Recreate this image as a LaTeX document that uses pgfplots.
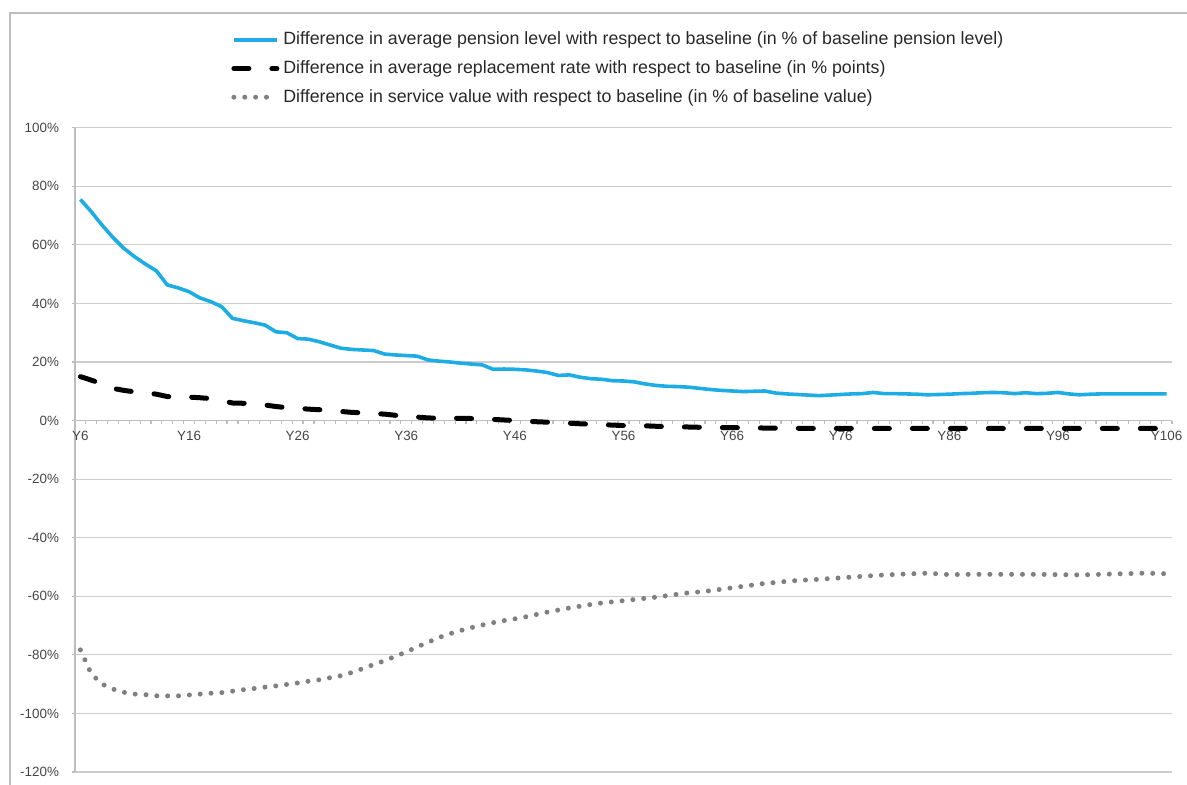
\documentclass[border=0pt]{standalone}
\usepackage{fontspec}
\setmainfont{Liberation Sans}
\usepackage{pgfplots}
\pgfplotsset{compat=1.18}
\definecolor{pblue}{RGB}{30,172,228}
\definecolor{dgray}{RGB}{128,128,128}
\definecolor{gridc}{RGB}{205,205,205}
\definecolor{axc}{RGB}{190,190,190}
\definecolor{txt}{RGB}{70,70,70}
\definecolor{legtxt}{RGB}{40,40,40}

\pgfplotstableread{
x y
6 75.5
7 71.3
8 66.7
9 62.5
10 58.8
11 55.9
12 53.4
13 51.1
14 46.3
15 45.3
16 44.0
17 41.9
18 40.6
19 38.9
20 34.9
21 34.1
22 33.4
23 32.6
24 30.3
25 30.0
26 28.0
27 27.8
28 26.9
29 25.8
30 24.7
31 24.3
32 24.1
33 23.9
34 22.7
35 22.4
36 22.2
37 22.0
38 20.7
39 20.3
40 20.0
41 19.6
42 19.3
43 19.0
44 17.5
45 17.6
46 17.5
47 17.3
48 16.9
49 16.4
50 15.4
51 15.6
52 14.8
53 14.3
54 14.1
55 13.6
56 13.5
57 13.2
58 12.5
59 12.0
60 11.7
61 11.6
62 11.4
63 11.0
64 10.6
65 10.3
66 10.1
67 9.9
68 10.0
69 10.1
70 9.4
71 9.1
72 8.9
73 8.7
74 8.5
75 8.7
76 8.9
77 9.1
78 9.2
79 9.6
80 9.2
81 9.2
82 9.1
83 9.0
84 8.8
85 8.9
86 9.0
87 9.2
88 9.3
89 9.5
90 9.6
91 9.5
92 9.2
93 9.5
94 9.2
95 9.3
96 9.6
97 9.1
98 8.8
99 9.0
100 9.1
101 9.1
102 9.1
103 9.1
104 9.1
105 9.1
106 9.1
}\pension

\pgfplotstableread{
x y
6 15.0
7 13.8
8 12.5
9 11.0
10 10.3
11 9.8
12 9.5
13 9.0
14 8.2
15 8.0
16 8.0
17 7.8
18 7.5
19 6.8
20 6.0
21 5.9
22 5.7
23 5.3
24 4.8
25 4.4
26 4.2
27 3.9
28 3.7
29 3.5
30 3.1
31 2.8
32 2.6
33 2.4
34 2.2
35 1.8
36 1.5
37 1.2
38 0.9
39 0.8
40 0.8
42 0.7
44 0.4
46 0.0
48 -0.4
50 -0.7
52 -1.1
54 -1.4
56 -1.7
58 -1.8
60 -2.1
62 -2.2
64 -2.4
66 -2.4
68 -2.5
70 -2.6
74 -2.7
80 -2.7
90 -2.7
106 -2.7
}\replacement

\pgfplotstableread{
x y
6 -78.3
7 -86.5
8 -90.0
9 -91.7
10 -92.8
11 -93.4
12 -93.6
13 -94.0
14 -94.0
15 -94.0
16 -93.7
17 -93.4
18 -93.1
19 -92.9
20 -92.4
21 -91.9
22 -91.5
23 -91.0
24 -90.6
25 -90.1
26 -89.6
27 -89.0
28 -88.5
29 -87.8
30 -87.1
31 -86.0
32 -84.7
33 -83.3
34 -82.0
35 -80.5
36 -79.0
37 -77.3
38 -75.7
39 -74.1
40 -72.8
41 -71.7
42 -70.7
43 -69.8
44 -69.0
45 -68.3
46 -67.7
47 -67.0
48 -66.2
49 -65.4
50 -64.7
51 -64.0
52 -63.4
53 -62.8
54 -62.3
55 -61.9
56 -61.5
57 -61.1
58 -60.7
59 -60.3
60 -59.8
61 -59.3
62 -58.8
63 -58.5
64 -58.1
65 -57.6
66 -57.1
67 -56.6
68 -56.1
69 -55.6
70 -55.3
71 -54.9
72 -54.6
74 -54.2
76 -53.7
78 -53.2
80 -52.7
82 -52.4
84 -52.1
86 -52.6
88 -52.5
90 -52.5
92 -52.5
94 -52.5
96 -52.6
98 -52.7
100 -52.5
102 -52.3
104 -52.1
106 -52.3
}\service

\begin{document}
\begin{tikzpicture}
\useasboundingbox (0pt,0pt) rectangle (593.5pt,-392.5pt);
\draw[axc, line width=0.8pt] (5pt,-6.5pt) rectangle (640pt,-430pt);
\begin{axis}[
  at={(37.5pt,-386pt)}, anchor=south west,
  scale only axis, width=548.5pt, height=322.15pt,
  xmin=5.5, xmax=106.5, ymin=-120, ymax=100,
  axis x line*=middle, axis y line*=left,
  axis line style={axc, line width=0.8pt},
  ymajorgrids, grid style={gridc, line width=0.6pt},
  ytick={-120,-100,-80,-60,-40,-20,0,20,40,60,80,100},
  yticklabels={-120\%,-100\%,-80\%,-60\%,-40\%,-20\%,0\%,20\%,40\%,60\%,80\%,100\%},
  xtick={6,16,26,36,46,56,66,76,86,96,106},
  xticklabels={Y6,Y16,Y26,Y36,Y46,Y56,Y66,Y76,Y86,Y96,Y106},
  minor xtick={5.5,6.5,...,106.5},
  major x tick style={draw=none},
  minor x tick style={axc, line width=0.6pt},
  y tick style={axc, line width=0.6pt},
  tick align=outside, major tick length=1.5pt, minor tick length=1.5pt,
  ticklabel style={font=\fontsize{6.7}{7.5}\selectfont, text=txt},
  yticklabel style={xshift=-3pt},
  xticklabel style={yshift=-0.5pt},
  legend style={at={(0.1422,1.151)}, anchor=north west, draw=none, fill=none,
    inner sep=0pt, row sep=5.35pt,
    font=\fontsize{8.9}{10.5}\selectfont, text=legtxt,
    nodes={inner sep=0pt, text height=7pt, text depth=2pt},
    /tikz/every odd column/.append style={column sep=2pt}},
  legend cell align=left,
  legend image code/.code={\draw[#1] (0pt,0pt) -- (21.5pt,0pt);},
]
\addplot[pblue, line width=1.8pt, line join=round] table {\pension};
\addlegendentry{Difference in average pension level with respect to baseline (in \% of baseline pension level)}
\addplot[black, line width=2.5pt, line cap=round, dash pattern=on 7.5pt off 11.5pt] table {\replacement};
\addlegendentry{Difference in average replacement rate with respect to baseline (in \% points)}
\addplot[dgray, line width=2.5pt, line cap=round, dash pattern=on 0pt off 5.43pt] table {\service};
\addlegendentry{Difference in service value with respect to baseline (in \% of baseline value)}
\end{axis}
\end{tikzpicture}
\end{document}
